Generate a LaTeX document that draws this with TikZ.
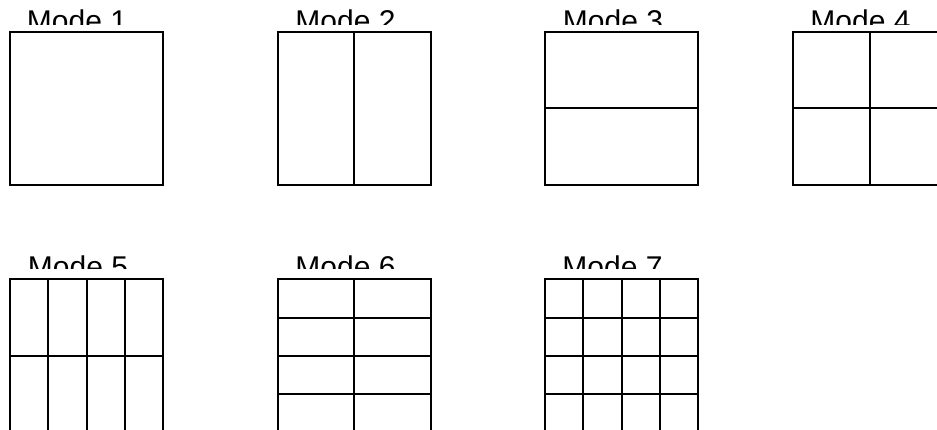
\documentclass[tikz,border=0pt]{standalone}
\usepackage{fontspec}
\setmainfont{Liberation Sans}
\begin{document}
\begin{tikzpicture}[x=1pt,y=-1pt,
  gridline/.style={line width=2pt, line cap=rect},
  lbl/.style={font=\fontsize{30}{32}\selectfont, anchor=base, inner sep=0pt}]
\useasboundingbox (0,0) rectangle (937,430);
% labels (clipped at the bottom)
\begin{scope}
  \clip (0,0) rectangle (937,25);
  \node[lbl] (l1) at (77,31.5) {Mode 1};
  \node[lbl] (l2) at (345.5,31.5) {Mode 2};
  \node[lbl] (l3) at (613,31.5) {Mode 3};
  \node[lbl] (l4) at (860.5,31.5) {Mode 4};
\end{scope}
\begin{scope}
  \clip (0,240) rectangle (937,269);
  \node[lbl] (l5) at (78,277.5) {Mode 5};
  \node[lbl] (l6) at (345.5,277.5) {Mode 6};
  \node[lbl] (l7) at (612.5,277.5) {Mode 7};
\end{scope}
% boxes: \modebox{x}{y}{cols}{rows}
\newcommand{\modebox}[4]{%
  \draw[gridline] (#1,#2) rectangle ++(153,153);
  \ifnum#3>1
    \foreach \i in {1,...,\numexpr#3-1\relax}
      \draw[gridline] ({#1+153*\i/#3},#2) -- ++(0,153);
  \fi
  \ifnum#4>1
    \foreach \j in {1,...,\numexpr#4-1\relax}
      \draw[gridline] (#1,{#2+153*\j/#4}) -- ++(153,0);
  \fi
}
\modebox{10}{32}{1}{1}
\modebox{277.5}{32}{2}{1}
\modebox{545}{32}{1}{2}
\modebox{793}{32}{2}{2}
\modebox{10}{279.5}{4}{2}
\modebox{277.5}{279.5}{2}{4}
\modebox{545}{279.5}{4}{4}
\end{tikzpicture}
\end{document}
